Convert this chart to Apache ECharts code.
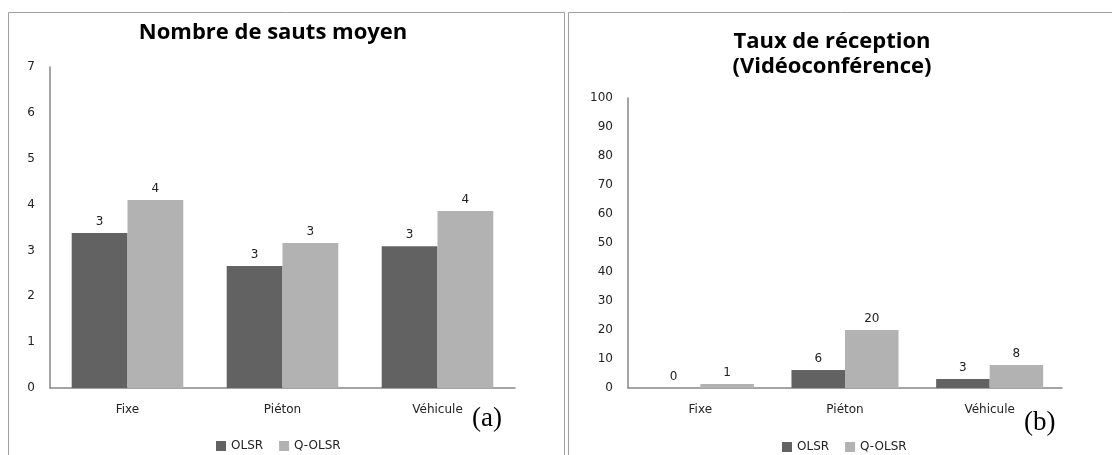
<!DOCTYPE html>
<html>
<head>
<meta charset="utf-8">
<script src="https://cdn.jsdelivr.net/npm/echarts@6/dist/echarts.min.js"></script>
<style>
  html, body { margin: 0; padding: 0; background: #fff; }
  #chart { width: 1112px; height: 455px; }
</style>
</head>
<body>
<div id="chart"></div>
<script>
// categories (mobility models)
var categories = ["Fixe", "Piéton", "Véhicule"];
var seriesNames = ["OLSR", "Q-OLSR"];

// (a) nombre de sauts moyen
var sautsOLSR = [3.38, 2.66, 3.09];
var sautsQOLSR = [4.10, 3.16, 3.86];

// (b) taux de réception (vidéoconférence)
var tauxOLSR = [0, 6.2, 3.1];
var tauxQOLSR = [1.4, 20.0, 7.9];

var colDark = "#626262";
var colLight = "#b2b2b2";
var axisCol = "#868686";
var txtFont = "DejaVu Sans";
var txtSize = 12;

function valueAxis(gridIndex, max, interval) {
    return {
        type: "value", gridIndex: gridIndex, min: 0, max: max, interval: interval,
        axisLine: { show: true, lineStyle: { color: axisCol, width: 1.5 } },
        axisTick: { show: false },
        splitLine: { show: false },
        axisLabel: { color: "#222", fontFamily: txtFont, fontSize: txtSize, margin: 15 }
    };
}

function catAxis(gridIndex) {
    return {
        type: "category", gridIndex: gridIndex, data: categories,
        axisLine: { lineStyle: { color: axisCol, width: 1.5 } },
        axisTick: { show: false },
        axisLabel: { color: "#222", fontFamily: txtFont, fontSize: txtSize, margin: 16 }
    };
}

function barSeries(name, data, idx, color, gap) {
    return {
        type: "bar", name: name, data: data,
        xAxisIndex: idx, yAxisIndex: idx,
        barGap: "0%", barCategoryGap: gap,
        itemStyle: { color: color },
        label: {
            show: true, position: "top", distance: 5,
            color: "#222", fontFamily: txtFont, fontSize: txtSize,
            formatter: function (p) { return Math.round(p.value); }
        }
    };
}

var chart = echarts.init(document.getElementById("chart"));
chart.setOption({
    animation: false,
    backgroundColor: "#fff",
    title: [
        {
            text: "Nombre de sauts moyen", left: 268, top: 17, textAlign: "center",
            textStyle: { fontFamily: "Open Sans", fontWeight: "bold", fontSize: 22, color: "#000" }
        },
        {
            text: "Taux de réception\n(Vidéoconférence)", left: 827, top: 24, textAlign: "center",
            textStyle: { fontFamily: "Open Sans", fontWeight: "bold", fontSize: 22, color: "#000", lineHeight: 25 }
        }
    ],
    legend: [
        {
            data: seriesNames, left: 211, top: 435, itemWidth: 10, itemHeight: 10, itemGap: 16,
            icon: "rect", textStyle: { fontFamily: txtFont, fontSize: txtSize, color: "#222" }
        },
        {
            data: seriesNames, left: 777, top: 436, itemWidth: 10, itemHeight: 10, itemGap: 16,
            icon: "rect", textStyle: { fontFamily: txtFont, fontSize: txtSize, color: "#222" }
        }
    ],
    grid: [
        { left: 50, top: 67, width: 465, height: 321 },
        { left: 628, top: 98, width: 434, height: 290 }
    ],
    xAxis: [catAxis(0), catAxis(1)],
    yAxis: [valueAxis(0, 7, 1), valueAxis(1, 100, 10)],
    series: [
        barSeries("OLSR", sautsOLSR, 0, colDark, "28%"),
        barSeries("Q-OLSR", sautsQOLSR, 0, colLight, "28%"),
        barSeries("OLSR", tauxOLSR, 1, colDark, "26%"),
        barSeries("Q-OLSR", tauxQOLSR, 1, colLight, "26%")
    ],
    graphic: [
        { type: "rect", shape: { x: 8.5, y: 12.5, width: 556, height: 460 }, style: { fill: null, stroke: "#a0a0a0", lineWidth: 1 } },
        { type: "rect", shape: { x: 568.5, y: 12.5, width: 560, height: 460 }, style: { fill: null, stroke: "#a0a0a0", lineWidth: 1 } },
        { type: "text", left: 472, top: 405, style: { text: "(a)", font: "27px 'Liberation Serif'", fill: "#000" } },
        { type: "text", left: 1024, top: 409, style: { text: "(b)", font: "27px 'Liberation Serif'", fill: "#000" } }
    ]
});
</script>
</body>
</html>
